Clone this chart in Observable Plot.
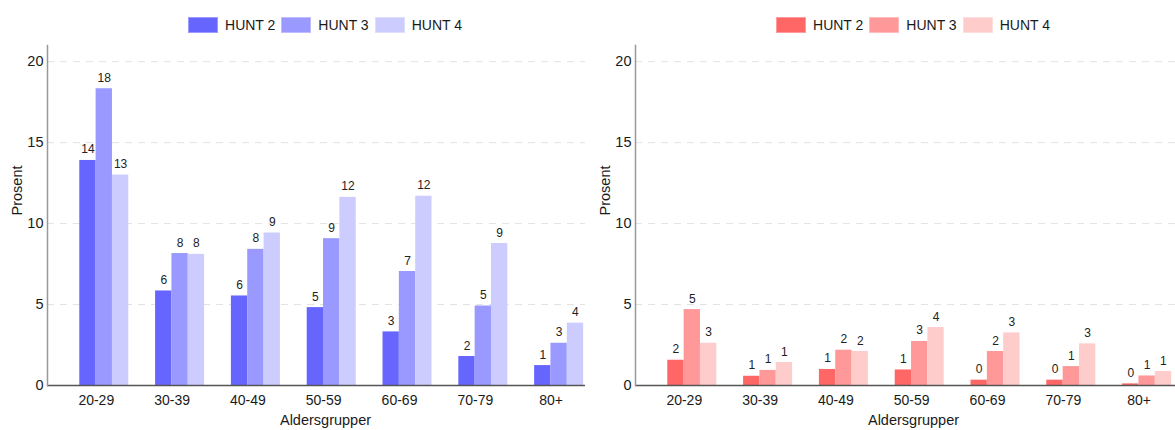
<!DOCTYPE html>
<html>
<head>
<meta charset="utf-8">
<script src="https://cdn.jsdelivr.net/npm/d3@7"></script>
<script src="https://cdn.jsdelivr.net/npm/@observablehq/plot@0.6"></script>
<style>
  html, body { margin: 0; padding: 0; background: #fff; }
  body { width: 1175px; height: 430px; overflow: hidden; font-family: "Liberation Sans", Arial, sans-serif; color: #1a1a1a; }
  #wrap { position: relative; width: 1175px; height: 430px; }
  .panel { position: absolute; top: 0; height: 430px; overflow: hidden; background: #fff; }
  #left { left: 0; width: 585px; }
  #right { left: 588px; width: 587px; }
  .legend { display: flex; justify-content: center; align-items: center; box-sizing: border-box; width: 605px; height: 40px; padding: 9px 2px 0 47px; font-size: 14px; }
  .item { display: flex; align-items: center; margin: 0 3px; }
  .sw { width: 30px; height: 16px; margin-right: 7px; box-sizing: border-box; border: 1px solid rgba(255,255,255,0.35); }
  svg { display: block; max-width: none !important; height: 390px !important; }
</style>
</head>
<body>
<div id="wrap">
  <div class="panel" id="left"></div>
  <div class="panel" id="right"></div>
</div>
<script>
// ---- data ----
const ageGroups = ["20-29", "30-39", "40-49", "50-59", "60-69", "70-79", "80+"];
const surveys = ["HUNT 2", "HUNT 3", "HUNT 4"];
const yTicks = [0, 5, 10, 15, 20];

// left panel (blue)
const leftHunt2 = [13.9, 5.84, 5.53, 4.81, 3.31, 1.79, 1.23];
const leftHunt3 = [18.33, 8.15, 8.41, 9.07, 7.04, 4.91, 2.61];
const leftHunt4 = [13.0, 8.1, 9.42, 11.62, 11.69, 8.77, 3.85];
const leftColors = ["#6666ff", "#9999ff", "#ccccff"];

// right panel (red)
const rightHunt2 = [1.56, 0.57, 0.99, 0.96, 0.33, 0.33, 0.1];
const rightHunt3 = [4.69, 0.93, 2.18, 2.72, 2.1, 1.17, 0.59];
const rightHunt4 = [2.61, 1.42, 2.1, 3.58, 3.25, 2.57, 0.86];
const rightColors = ["#ff6666", "#ff9999", "#ffcccc"];

const yLabel = "Prosent";
const xLabel = "Aldersgrupper";

const FONT = "'Liberation Sans', Arial, sans-serif";
const fmt = d3.format(".0f");

function legend(colors) {
  const div = document.createElement("div");
  div.className = "legend";
  surveys.forEach((s, k) => {
    const it = document.createElement("div");
    it.className = "item";
    const sw = document.createElement("span");
    sw.className = "sw";
    sw.style.background = colors[k];
    const tx = document.createElement("span");
    tx.textContent = s;
    it.appendChild(sw); it.appendChild(tx);
    div.appendChild(it);
  });
  return div;
}

function panel(series, colors) {
  const rows = [];
  surveys.forEach((s, k) => ageGroups.forEach((g, i) => rows.push({group: g, survey: s, k, value: series[k][i]})));
  const W = 605, ML = 47, MR = 2;
  const pInner = 0.3536, pOuter = 0.344;
  const step = (W - ML - MR) / (ageGroups.length - pInner + 2 * pOuter);
  const sub = step * (1 - pInner) / surveys.length;
  return Plot.plot({
    width: W,
    height: 390,
    marginLeft: ML,
    marginRight: MR,
    marginTop: 5,
    marginBottom: 45,
    style: {fontFamily: FONT, color: "#1a1a1a", background: "transparent"},
    x: {domain: ageGroups, paddingInner: pInner, paddingOuter: pOuter, align: 0.619, round: false, axis: null},
    y: {domain: [0, 21], axis: null},
    marks: [
      Plot.gridY(yTicks.filter(d => d > 0), {stroke: "#e2e2e2", strokeOpacity: 1, strokeDasharray: "7,6"}),
      ...surveys.map((s, k) => Plot.barY(rows.filter(r => r.k === k), {
        x: "group", y: "value", fill: colors[k],
        insetLeft: k * sub, insetRight: (surveys.length - 1 - k) * sub
      })),
      ...surveys.map((s, k) => Plot.text(rows.filter(r => r.k === k), {
        x: "group", y: "value", text: d => fmt(d.value),
        dx: (k - 1) * sub, dy: -7, lineAnchor: "bottom", fontSize: 12, fill: "#222"
      })),
      Plot.ruleY([0], {stroke: "#555", strokeWidth: 1.5}),
      Plot.frame({anchor: "left", stroke: "#999", strokeWidth: 1.5}),
      Plot.axisY({ticks: yTicks, tickSize: 0, tickPadding: 4, label: null, fontSize: 14.5}),
      Plot.axisX({tickSize: 0, tickPadding: 10, dx: -8, label: null, fontSize: 14}),
      Plot.text([yLabel], {frameAnchor: "left", rotate: -90, dx: -30, fontSize: 14.5, fill: "#1a1a1a"}),
      Plot.text([xLabel], {frameAnchor: "bottom", lineAnchor: "top", dy: 29, fontSize: 14.5, fill: "#1a1a1a"})
    ]
  });
}

const L = document.getElementById("left");
L.appendChild(legend(leftColors));
L.appendChild(panel([leftHunt2, leftHunt3, leftHunt4], leftColors));
const R = document.getElementById("right");
R.appendChild(legend(rightColors));
R.appendChild(panel([rightHunt2, rightHunt3, rightHunt4], rightColors));
</script>
</body>
</html>
